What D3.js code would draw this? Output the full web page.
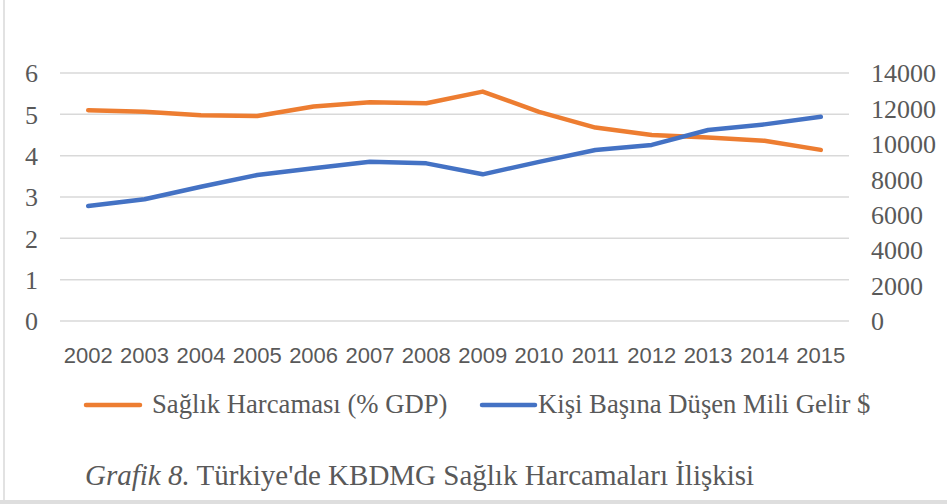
<!DOCTYPE html>
<html>
<head>
<meta charset="utf-8">
<script src="https://cdn.jsdelivr.net/npm/d3@7"></script>
<style>
  html, body { margin: 0; padding: 0; background: #fff; }
  svg { display: block; }
  .serif { font-family: "Liberation Serif", "Times New Roman", Times, "DejaVu Serif", serif; }
  .sans { font-family: "Liberation Sans", Arial, sans-serif; }
</style>
</head>
<body>
<svg id="chart" width="947" height="504"></svg>
<script>
const years = ["2002","2003","2004","2005","2006","2007","2008","2009","2010","2011","2012","2013","2014","2015"];
const healthGDP = [5.10, 5.06, 4.98, 4.96, 5.19, 5.29, 5.27, 5.55, 5.06, 4.68, 4.50, 4.44, 4.36, 4.14];
const incomePerCapita = [6490, 6870, 7580, 8240, 8620, 8990, 8900, 8280, 8980, 9650, 9940, 10780, 11100, 11530];
const leftTicks = [0, 1, 2, 3, 4, 5, 6];
const rightTicks = [0, 2000, 4000, 6000, 8000, 10000, 12000, 14000];
const seriesNames = ["Sağlık Harcaması (% GDP)", "Kişi Başına Düşen Mili Gelir $"];
const colors = ["#ED7D31", "#4472C4"];

const svg = d3.select("#chart");
const W = 947, H = 504;
const plot = { left: 60, right: 849, top: 73, bottom: 321 };
const textColor = "#595959";

// frame
svg.append("line").attr("x1", 4).attr("x2", 4).attr("y1", 0).attr("y2", 500)
  .attr("stroke", "#d9d9d9").attr("stroke-width", 1.5);
svg.append("rect").attr("x", 0).attr("y", 500).attr("width", W).attr("height", 4)
  .attr("fill", "#dedede");

const x = d3.scaleBand().domain(years).range([plot.left, plot.right]).paddingInner(0).paddingOuter(0);
const yL = d3.scaleLinear().domain([0, 6]).range([plot.bottom, plot.top]);
const yR = d3.scaleLinear().domain([0, 14000]).range([plot.bottom, plot.top]);
const cx = d => x(d) + x.bandwidth() / 2;

// gridlines
svg.append("g").selectAll("line").data(leftTicks).join("line")
  .attr("x1", plot.left).attr("x2", plot.right)
  .attr("y1", d => yL(d)).attr("y2", d => yL(d))
  .attr("stroke", "#d9d9d9").attr("stroke-width", 1.5);

// left axis
const gL = svg.append("g").attr("transform", `translate(${plot.left - 22},0)`)
  .call(d3.axisLeft(yL).tickValues(leftTicks).tickSize(0).tickPadding(0).tickFormat(d3.format("d")));
gL.attr("font-family", null);
gL.select(".domain").remove();
gL.selectAll("text").attr("class", "serif").attr("font-size", 26).attr("fill", textColor).attr("dy", "0.34em");

// right axis
const gR = svg.append("g").attr("transform", `translate(${plot.right + 22},0)`)
  .call(d3.axisRight(yR).tickValues(rightTicks).tickSize(0).tickPadding(0).tickFormat(d3.format("d")));
gR.attr("font-family", null);
gR.select(".domain").remove();
gR.selectAll("text").attr("class", "serif").attr("font-size", 26).attr("fill", textColor).attr("dy", "0.34em");

// x axis
const gX = svg.append("g").attr("transform", `translate(0,${plot.bottom + 42})`)
  .call(d3.axisBottom(x).tickSize(0).tickPadding(0));
gX.attr("font-family", null);
gX.select(".domain").remove();
gX.selectAll("text").attr("class", "sans").attr("font-size", 22).attr("fill", textColor).attr("dy", "0");

// lines
const lineL = d3.line().x((d, i) => cx(years[i])).y(d => yL(d));
const lineR = d3.line().x((d, i) => cx(years[i])).y(d => yR(d));
svg.append("path").datum(healthGDP).attr("d", lineL)
  .attr("fill", "none").attr("stroke", colors[0]).attr("stroke-width", 4.5)
  .attr("stroke-linecap", "round").attr("stroke-linejoin", "round");
svg.append("path").datum(incomePerCapita).attr("d", lineR)
  .attr("fill", "none").attr("stroke", colors[1]).attr("stroke-width", 4.5)
  .attr("stroke-linecap", "round").attr("stroke-linejoin", "round");

// legend
const legendItems = [
  { name: seriesNames[0], color: colors[0], x1: 86, x2: 140, tx: 152 },
  { name: seriesNames[1], color: colors[1], x1: 482, x2: 535, tx: 538 }
];
const lg = svg.append("g");
legendItems.forEach(it => {
  lg.append("line").attr("x1", it.x1).attr("x2", it.x2).attr("y1", 405).attr("y2", 405)
    .attr("stroke", it.color).attr("stroke-width", 4.5).attr("stroke-linecap", "round");
  lg.append("text").attr("class", "serif").attr("x", it.tx).attr("y", 413).text(it.name)
    .attr("font-size", 26.67).attr("fill", textColor);
});

// caption
const cap = svg.append("text").attr("class", "serif").attr("x", 85).attr("y", 485)
  .attr("font-size", 29).attr("fill", textColor);
cap.append("tspan").attr("font-style", "italic").text("Grafik 8.");
cap.append("tspan").text(" Türkiye'de KBDMG Sağlık Harcamaları İlişkisi");
</script>
</body>
</html>
